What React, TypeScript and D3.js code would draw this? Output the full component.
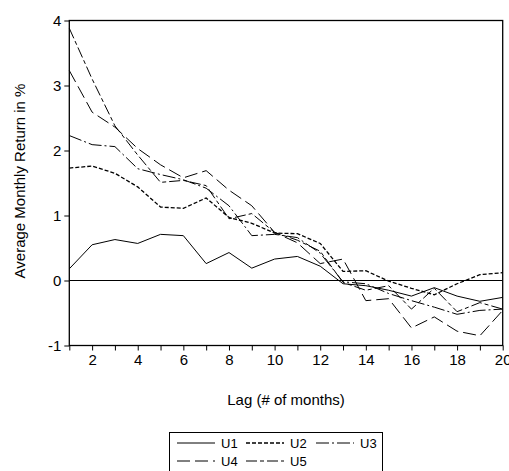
import React, { useRef, useEffect } from 'react';
import * as d3 from 'd3';

// lag in months
const lags = [1, 2, 3, 4, 5, 6, 7, 8, 9, 10, 11, 12, 13, 14, 15, 16, 17, 18, 19, 20];

// average monthly return in %, per uncertainty portfolio
const u1 = [0.18, 0.55, 0.63, 0.57, 0.71, 0.69, 0.26, 0.43, 0.19, 0.33, 0.37, 0.22, -0.05, -0.08, -0.15, -0.24, -0.11, -0.24, -0.32, -0.26];
const u2 = [1.73, 1.76, 1.65, 1.44, 1.13, 1.11, 1.27, 0.97, 0.88, 0.73, 0.72, 0.57, 0.14, 0.15, -0.01, -0.12, -0.22, -0.05, 0.09, 0.12];
const u3 = [2.23, 2.09, 2.06, 1.72, 1.63, 1.55, 1.42, 1.15, 0.69, 0.71, 0.66, 0.42, -0.02, -0.05, -0.2, -0.31, -0.41, -0.52, -0.46, -0.44];
const u4 = [3.23, 2.59, 2.36, 2.03, 1.78, 1.58, 1.69, 1.39, 1.15, 0.74, 0.58, 0.26, 0.33, -0.31, -0.28, -0.73, -0.56, -0.78, -0.85, -0.46];
const u5 = [3.88, 3.1, 2.38, 1.93, 1.51, 1.54, 1.46, 0.95, 1.03, 0.74, 0.62, 0.45, -0.03, -0.15, -0.08, -0.44, -0.12, -0.48, -0.34, -0.44];

const seriesNames = ['U1', 'U2', 'U3', 'U4', 'U5'];
const yTicks = [-1, 0, 1, 2, 3, 4];

const App = () => {
  const ref = useRef<SVGSVGElement>(null);

  useEffect(() => {
    const svg = d3.select(ref.current)
      .attr('width', 509)
      .attr('height', 471);

    svg.selectAll('*').remove();

    const font = '"Liberation Sans", Arial, sans-serif';
    const left = 69.3, right = 502.7, top = 20.5, bottom = 345.5;

    const x = d3.scaleLinear().domain([1, 20]).range([left, right]);
    const y = d3.scaleLinear().domain([-1, 4]).range([bottom, top]);

    const all = [u1, u2, u3, u4, u5];
    const dashes = ['none', '4,2', '13,3,2,3', '13,5', '11,3,4,3'];
    const widths = [1, 1.3, 1, 1, 1];

    // zero line
    svg.append('line')
      .attr('x1', left).attr('x2', right)
      .attr('y1', y(0)).attr('y2', y(0))
      .attr('stroke', '#000').attr('stroke-width', 1);

    const line = d3.line<number>()
      .x((d, i) => x(lags[i]))
      .y(d => y(d));

    all.forEach((s, k) => {
      svg.append('path')
        .datum(s)
        .attr('d', line)
        .attr('fill', 'none')
        .attr('stroke', '#000')
        .attr('stroke-width', widths[k])
        .attr('stroke-dasharray', dashes[k]);
    });

    // frame
    svg.append('rect')
      .attr('x', left).attr('y', top)
      .attr('width', right - left).attr('height', bottom - top)
      .attr('fill', 'none').attr('stroke', '#000').attr('stroke-width', 1.3);

    const xAxis = svg.append('g')
      .attr('transform', `translate(0,${bottom})`)
      .call(d3.axisBottom(x).tickValues(lags).tickSize(5).tickSizeOuter(0)
        .tickFormat(d => (+d % 2 === 0 ? String(d) : '')));
    xAxis.select('.domain').remove();
    xAxis.selectAll('text').attr('font-size', 15).attr('font-family', font).attr('fill', '#000').attr('dy', '0.75em');

    const yAxis = svg.append('g')
      .attr('transform', `translate(${left},0)`)
      .call(d3.axisLeft(y).tickValues(yTicks).tickSize(5).tickSizeOuter(0).tickFormat(d => String(d)));
    yAxis.select('.domain').remove();
    yAxis.selectAll('text').attr('font-size', 15).attr('font-family', font).attr('fill', '#000');

    svg.append('text')
      .attr('x', (left + right) / 2).attr('y', 405)
      .attr('text-anchor', 'middle')
      .attr('font-size', 15).attr('font-family', font)
      .text('Lag (# of months)');

    svg.append('text')
      .attr('transform', `translate(25,${181}) rotate(-90)`)
      .attr('text-anchor', 'middle')
      .attr('font-size', 15).attr('font-family', font)
      .text('Average Monthly Return in %');

    // legend
    const lg = svg.append('g');
    lg.append('rect')
      .attr('x', 169.5).attr('y', 432.5)
      .attr('width', 213).attr('height', 40)
      .attr('fill', 'none').attr('stroke', '#000').attr('stroke-width', 1);

    const cols = [177, 246, 316];
    const rows = [443, 461];
    seriesNames.forEach((name, k) => {
      const cx = cols[k % 3];
      const cy = rows[Math.floor(k / 3)];
      lg.append('line')
        .attr('x1', cx).attr('x2', cx + 38)
        .attr('y1', cy).attr('y2', cy)
        .attr('stroke', '#000').attr('stroke-width', widths[k])
        .attr('stroke-dasharray', dashes[k]);
      lg.append('text')
        .attr('x', cx + 44).attr('y', cy)
        .attr('dy', '0.35em')
        .attr('font-size', 13).attr('font-family', font)
        .text(name);
    });
  }, []);

  return <svg ref={ref} style={{ position: 'absolute', left: 0, top: 0 }}></svg>;
};

export default App;
